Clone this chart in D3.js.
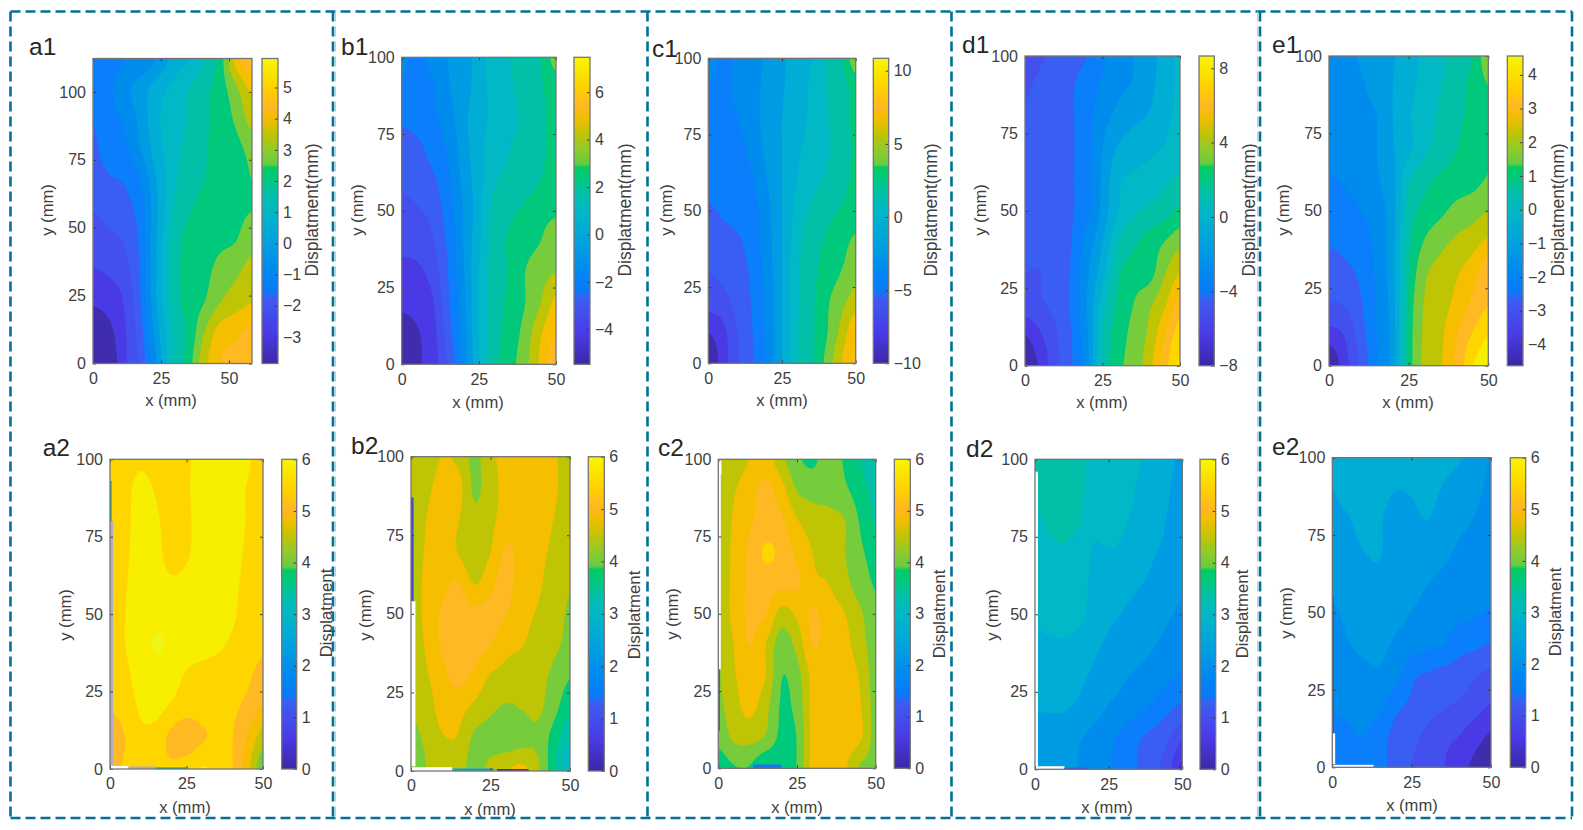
<!DOCTYPE html>
<html>
<head>
<meta charset="utf-8">
<style>
  html, body { margin: 0; padding: 0; background: #fff; }
  svg { display: block; }
  text { font-family: "Liberation Sans", Arial, sans-serif; fill: #404040; }
</style>
<script src="https://cdn.jsdelivr.net/npm/d3@7/dist/d3.min.js"></script>
</head>
<body>
<svg id="fig" width="1583" height="830"></svg>
<script>
// Displacement readings in mm. Each table runs from the top of the specimen
// (largest y) down to y = 0 and from x = 0 to the right-hand edge.
const a1Values = [
  [-1.2,-1.2,-.98,-.86,-.4,.35,.75,1.33,2.19,3.91,4.78],
  [-1.44,-1.09,-.57,-.11,.46,.87,1.33,1.73,2.19,2.94,3.8],
  [-1.55,-1.2,-.86,-.23,.64,1.04,1.38,1.79,2.13,2.59,3.28],
  [-1.66,-1.32,-1.15,-.4,.46,1.1,1.5,1.84,2.13,2.3,2.65],
  [-1.84,-1.61,-1.49,-.98,.18,1.15,1.67,1.9,2.13,2.3,2.48],
  [-2.13,-1.9,-1.78,-1.26,.06,1.33,1.84,2.07,2.19,2.36,2.48],
  [-2.47,-2.3,-2.07,-1.38,.18,1.5,2.07,2.19,2.36,2.48,2.82],
  [-2.76,-2.64,-2.36,-1.49,.18,1.56,2.13,2.3,2.71,2.94,3.34],
  [-3.22,-3.05,-2.64,-1.55,.18,1.5,2.13,2.48,3.05,3.4,3.63],
  [-3.68,-3.45,-2.76,-1.78,-.11,1.33,2.02,3.05,3.91,4.09,4.43],
  [-3.85,-3.68,-2.82,-1.95,-.4,1.33,2.19,3.45,4.2,4.37,4.66]
];
const b1Values = [
  [-1.28,-1.97,-1.36,-.9,-.68,.31,1,1.38,1.76,2.14,3.28],
  [-2.05,-2.12,-1.74,-.98,-.52,.24,.92,1.3,1.61,2.06,2.44],
  [-2.27,-2.12,-1.82,-1.28,-.37,.31,.85,1.23,1.53,1.99,2.44],
  [-2.88,-2.65,-2.12,-1.59,-.52,.39,1.07,1.38,1.61,1.99,2.44],
  [-3.03,-2.88,-2.58,-1.82,-.68,.31,1.3,1.53,1.76,2.14,2.52],
  [-3.42,-3.26,-2.96,-2.05,-.9,.31,1.68,1.99,2.29,2.6,2.75],
  [-3.72,-3.64,-3.26,-2.27,-.9,.47,1.76,2.22,2.6,2.9,3.51],
  [-4.18,-4.1,-3.64,-2.43,-.98,.62,1.84,2.22,2.9,3.36,3.66],
  [-4.48,-4.4,-4.02,-2.58,-1.13,.62,1.84,2.29,2.9,3.66,4.65],
  [-5.24,-4.79,-4.25,-2.81,-1.21,.62,1.84,2.44,3.21,4.35,5.18],
  [-5.47,-4.86,-4.33,-3.11,-1.36,.54,1.91,2.6,3.43,4.58,5.79]
];
const c1Values = [
  [-2.64,-4.36,-3.38,-3.13,-2.4,-1.66,-.8,-.19,1.03,2.01,4.34],
  [-4.24,-4.36,-3.5,-3.01,-2.28,-1.54,-.8,.05,1.03,1.77,2.63],
  [-4.61,-4.36,-3.87,-3.13,-2.15,-1.42,-.68,.05,.91,1.65,2.63],
  [-4.73,-4.61,-4.24,-3.5,-2.28,-1.42,-.44,.3,.91,1.52,2.51],
  [-4.85,-4.73,-4.61,-3.99,-2.64,-1.42,-.19,.67,1.16,1.77,2.63],
  [-5.22,-4.97,-4.73,-4.36,-3.01,-1.42,.18,1.28,1.89,2.38,2.87],
  [-5.71,-5.46,-5.22,-4.61,-3.13,-1.42,.54,1.77,2.38,3,3.73],
  [-6.32,-5.95,-5.46,-4.85,-3.26,-1.42,.79,1.89,2.75,3.49,4.34],
  [-7.06,-6.81,-5.83,-4.97,-3.38,-1.42,.79,2.01,3.24,4.34,5.33],
  [-8.77,-7.92,-6.32,-5.1,-3.62,-1.42,.91,2.01,3.36,5.08,7.04],
  [-10,-8.16,-6.44,-5.22,-3.62,-1.42,.91,2.01,3.85,5.94,7.41]
];
const d1Values = [
  [-5.45,-5.16,-4.77,-4.37,-4.08,-3.3,-2.51,-2.12,-1.53,-.75,.04],
  [-5.16,-4.86,-4.57,-4.18,-3.59,-2.9,-2.32,-2.02,-1.43,-.65,.04],
  [-4.96,-4.77,-4.57,-4.18,-3.49,-2.51,-1.83,-1.34,-1.04,-.45,.13],
  [-4.86,-4.77,-4.57,-4.18,-3.49,-2.12,-1.04,-.65,-.36,-.06,.43],
  [-4.86,-4.77,-4.57,-4.18,-3.39,-1.92,-.36,.04,.23,.62,1.02],
  [-4.86,-4.77,-4.57,-4.18,-3.39,-1.83,-.16,.62,1.02,1.41,2],
  [-4.96,-4.86,-4.57,-4.08,-2.71,-1.14,.82,1.6,2.19,2.78,3.47],
  [-5.06,-5.06,-4.67,-3.98,-2.32,-.55,1.6,2.29,2.39,3.66,4.74],
  [-5.45,-5.16,-4.77,-3.88,-2.12,.33,2,2.78,3.56,4.54,6.11],
  [-7.02,-6.14,-5.16,-4.08,-2.32,.82,2.29,3.07,3.96,5.62,7.29],
  [-8,-6.82,-5.35,-4.18,-2.51,.82,2.49,3.17,4.35,6.31,7.88]
];
const e1Values = [
  [-1.66,-1.55,-1.34,-1.17,-.9,-.53,-.2,.12,.45,.77,1.74],
  [-1.71,-1.61,-1.44,-1.23,-.85,-.47,-.09,.23,.55,.93,1.31],
  [-1.77,-1.66,-1.5,-1.39,-.85,-.36,.01,.34,.66,.93,1.31],
  [-1.82,-1.71,-1.61,-1.39,-.9,-.42,.12,.45,.77,1.09,1.31],
  [-1.98,-1.88,-1.66,-1.44,-1.01,.18,.61,.88,1.04,1.15,1.36],
  [-2.2,-2.15,-1.93,-1.61,-1.07,.45,.93,1.2,1.47,1.63,1.85],
  [-2.42,-2.36,-2.2,-1.77,-1.01,.61,1.36,1.69,1.96,2.17,2.5],
  [-2.69,-2.58,-2.36,-1.82,-1.01,.77,1.74,2.07,2.34,2.71,3.36],
  [-3.06,-2.96,-2.52,-1.88,-1.07,.93,1.9,2.17,2.55,3.04,3.47],
  [-3.77,-3.5,-2.69,-1.93,-1.12,.99,1.96,2.28,2.93,3.52,4.01],
  [-4.63,-3.77,-2.9,-1.98,-1.12,.99,2.01,2.34,3.04,3.96,4.44]
];
const a2Values = [
  [5.4,5.5,5.6,5.5,5.45,5.6,5.75,5.8,5.8,5.7,5.45],
  [5.4,5.55,5.75,5.62,5.45,5.6,5.8,5.85,5.8,5.62,5.45],
  [5.4,5.55,5.8,5.7,5.5,5.58,5.8,5.85,5.8,5.62,5.45],
  [5.4,5.58,5.8,5.75,5.52,5.6,5.8,5.85,5.78,5.58,5.4],
  [5.4,5.62,5.8,5.8,5.7,5.75,5.85,5.85,5.72,5.55,5.4],
  [5.4,5.65,5.85,5.9,5.9,5.9,5.85,5.82,5.7,5.5,5.4],
  [5.4,5.65,5.85,6.03,5.95,5.85,5.8,5.72,5.58,5.45,5.35],
  [5.35,5.55,5.8,5.85,5.8,5.6,5.5,5.45,5.4,5.35,5.15],
  [5.3,5.45,5.7,5.75,5.6,5.45,5.45,5.4,5.35,5.2,4.9],
  [5.1,5.3,5.55,5.5,5.2,5.05,5.25,5.35,5.3,4.9,4.4],
  [5.1,5.35,5.4,5.4,5.35,5.5,5.68,5.55,5.3,4.7,3.95]
];
const b2Values = [
  [4.3,4.4,4.6,4.5,4.15,4.5,4.7,4.75,4.75,4.65,4.35],
  [4.3,4.5,4.75,4.7,4.18,4.45,4.7,4.8,4.8,4.65,4.4],
  [4.3,4.6,4.8,4.6,4.3,4.5,4.75,4.8,4.75,4.58,4.35],
  [4.3,4.65,4.85,4.55,4.3,4.58,5,4.8,4.7,4.5,4.3],
  [4.35,4.7,4.85,4.95,4.55,4.85,5.05,4.75,4.65,4.4,4.25],
  [4.4,4.7,5,5.15,5.05,5.05,4.95,4.7,4.55,4.35,4.2],
  [4.35,4.65,5,5.2,5.1,4.95,4.7,4.6,4.45,4.3,4.15],
  [4.3,4.55,4.85,5.05,4.85,4.55,4.45,4.4,4.35,4.15,3.9],
  [4.25,4.4,4.75,4.7,4.5,4.3,4.2,4.25,4.3,4,3.6],
  [4.15,4.3,4.55,4.55,4.15,4.1,4.05,4.1,4.15,3.7,3.2],
  [4,4.24,4.4,4.35,4.1,4.35,4.55,4.7,4.3,3.6,2.9]
];
const c2Values = [
  [4.2,4.4,4.6,4.75,4.35,3.95,3.82,4.05,3.85,3.55,3.2],
  [4.2,4.55,4.8,5.05,4.75,4.22,4.1,4.1,3.95,3.7,3.4],
  [4.2,4.65,4.9,5.05,5,4.62,4.42,4.35,4.25,3.85,3.5],
  [4.2,4.7,5,5.35,5.2,4.85,4.58,4.4,4.25,3.95,3.75],
  [4.2,4.72,5,5.1,5.05,5,4.68,4.58,4.35,4.05,3.85],
  [4.22,4.72,5,4.97,4.45,4.65,5,4.75,4.6,4.3,3.95],
  [4.2,4.6,4.95,4.6,4.05,4.35,4.95,4.8,4.7,4.4,4.05],
  [4.2,4.55,4.8,4.6,3.9,4.1,4.7,4.8,4.75,4.55,4.05],
  [4.15,4.45,4.7,4.35,3.85,4,4.7,4.8,4.75,4.62,4.1],
  [4,4.3,4.35,4.2,3.8,3.9,4.7,4.8,4.75,4.65,4.1],
  [3.65,3.85,3.85,3.5,3.6,3.9,4.7,4.75,4.65,4.2,4.1]
];
const d2Values = [
  [3.25,3.4,3.4,3.25,3.1,3,2.95,2.85,2.75,2.55,2.4],
  [3.2,3.35,3.35,3.23,3.05,3,2.9,2.8,2.65,2.5,2.35],
  [3.1,3.25,3.3,3.2,2.9,2.95,2.85,2.75,2.6,2.45,2.3],
  [3.05,3.1,3.13,3,2.8,2.81,2.77,2.65,2.5,2.4,2.25],
  [3,3.05,3.05,2.95,2.75,2.7,2.6,2.5,2.4,2.3,2.15],
  [2.87,2.95,3,2.9,2.7,2.55,2.45,2.35,2.25,2.15,2.07],
  [2.75,2.77,2.77,2.7,2.55,2.4,2.3,2.2,2.13,2.05,1.95],
  [2.65,2.65,2.65,2.55,2.4,2.25,2.15,2.07,2,1.85,1.7],
  [2.5,2.5,2.5,2.4,2.25,2.1,2,1.85,1.7,1.5,1.35],
  [2.3,2.33,2.3,2.15,2,1.85,1.65,1.45,1.3,1.1,.75],
  [2.2,2.2,2.17,2.1,1.9,1.8,1.6,1.4,1.2,.85,.25]
];
const e2Values = [
  [2.5,2.65,2.75,2.7,2.65,2.6,2.6,2.55,2.49,2.3,2.1],
  [2.47,2.6,2.65,2.6,2.48,2.5,2.55,2.45,2.33,2.2,2.05],
  [2.35,2.45,2.57,2.5,2.33,2.4,2.47,2.33,2.2,2.1,2],
  [2.3,2.37,2.47,2.49,2.3,2.3,2.25,2.2,2.07,2,1.93],
  [2.2,2.3,2.38,2.4,2.25,2.2,2.13,2.05,1.97,1.9,1.82],
  [2.07,2.2,2.3,2.3,2.2,2.11,2.03,1.95,1.87,1.8,1.73],
  [1.95,2.1,2.2,2.2,2.07,1.95,1.85,1.77,1.55,1.5,1.4],
  [1.85,1.95,2.03,2.07,1.9,1.5,1.38,1.3,1.25,1.1,.98],
  [1.8,1.85,1.9,1.85,1.5,1.35,1.2,1.1,1,.85,.68],
  [1.65,1.7,1.77,1.55,1.3,1.15,.98,.8,.7,.5,.3],
  [1.65,1.65,1.65,1.5,1.3,1.05,.9,.72,.5,.25,.05]
];

// Colour-bar ranges and tick labels.
const a1Range = [-3.85, 5.93], a1Ticks = [-3,-2,-1,0,1,2,3,4,5];
const b1Range = [-5.47, 7.47], b1Ticks = [-4,-2,0,2,4,6];
const c1Range = [-10, 10.85],  c1Ticks = [-10,-5,0,5,10];
const d1Range = [-8, 8.66],    d1Ticks = [-8,-4,0,4,8];
const e1Range = [-4.63, 4.56], e1Ticks = [-4,-3,-2,-1,0,1,2,3,4];
const lowerRange = [0, 6],     lowerTicks = [0,1,2,3,4,5,6];
const xTicks = [0,25,50], yTicks = [0,25,50,75,100];

// Strips along the left and bottom edges where the measurement dropped out:
// [x0, x1, y0, y1] in mm.
const a2Gaps = [[0,1,1,80,"#b2abc9"],[0,.5,80,93,"#00a37f"],[0,6,0,1,"#ffffff"],[6,15,0,.8,"#b2abc9"],[15,25,0,.5,"#00a890"]];
const b2Gaps = [[0,.8,54,87,"#3a4ccc"],[0,1.4,1.5,54,"#ffffff"],[0,13,0,1.2,"#ffffff"],[13,26,0,.8,"#00a6d8"],[27,37,0,.6,"#4a209e"]];
const c2Gaps = [[0,1,95,100,"#ffffff"],[0,.8,32,95,"#ffffff"],[0,.5,12,32,"#4450d8"],[11,20,0,1.2,"#1f70f2"]];
const d2Gaps = [[0,1,1,96,"#ffffff"],[0,10,0,1,"#ffffff"],[10,18,0,.5,"#3650e0"]];
const e2Gaps = [[0,.9,1,11,"#ffffff"],[0,13,0,.8,"#ffffff"],[0,.4,11,55,"#3a3ab8"]];

const bandColours = ["#3f2dae","#4a3ae6","#4450ee","#3a5ef2","#0a7efb","#008ced","#009ce3","#00aed5",
  "#00b8c6","#00c0a8","#00c97c","#76cc3b","#bfc505","#f5bf00","#ffb922","#ffd500","#f8ee00","#eef518"];
const barStops = [[0,"#3a28a6"],[.1,"#4a3ae6"],[.2,"#3f58f0"],[.225,"#2f66f4"],[.235,"#0a78fa"],[.3,"#0088f2"],
  [.4,"#00a2de"],[.5,"#00b8c6"],[.56,"#00c0a8"],[.6,"#00c880"],[.642,"#00cc64"],[.652,"#66cc40"],[.7,"#90cb2c"],
  [.75,"#c0c404"],[.8,"#f0be00"],[.84,"#ffb822"],[.9,"#ffd000"],[1,"#f8f600"]];

const bandCount = 17;

const panels = [
  {id:"a1", z:a1Values, xMax:58.5, yMax:112.3, range:a1Range, ticks:a1Ticks, unit:"Displatment(mm)",
   box:[93,252,58.5,363.5], bar:[262,278], title:[29,55], xl:[171,400], yl:[47,210], cl:[312,210]},
  {id:"a2", z:a2Values, xMax:50, yMax:100, range:lowerRange, ticks:lowerTicks, unit:"Displatment", gaps:a2Gaps,
   box:[110,263,459.3,769], bar:[281.7,296.7], title:[42.7,456], xl:[185,807], yl:[65,615], cl:[326,613]},
  {id:"b1", z:b1Values, xMax:50, yMax:100, range:b1Range, ticks:b1Ticks, unit:"Displatment(mm)",
   box:[401.7,556,57.3,364.3], bar:[574,590], title:[341,55], xl:[478,402], yl:[357,210], cl:[625,210]},
  {id:"b2", z:b2Values, xMax:50, yMax:100, range:lowerRange, ticks:lowerTicks, unit:"Displatment", gaps:b2Gaps,
   box:[411,570,456.7,771], bar:[588.3,604.3], title:[351,454], xl:[490,809], yl:[365,615], cl:[634,615]},
  {id:"c1", z:c1Values, xMax:50, yMax:100, range:c1Range, ticks:c1Ticks, unit:"Displatment(mm)",
   box:[708.3,855.7,58.3,363.3], bar:[873.3,888.7], title:[652,57], xl:[782,400], yl:[666,210], cl:[931,210]},
  {id:"c2", z:c2Values, xMax:50, yMax:100, range:lowerRange, ticks:lowerTicks, unit:"Displatment", gaps:c2Gaps,
   box:[718.3,875.7,459.3,768.3], bar:[894.3,910.3], title:[658,456], xl:[797,807], yl:[672,614], cl:[939,614]},
  {id:"d1", z:d1Values, xMax:50, yMax:100, range:d1Range, ticks:d1Ticks, unit:"Displatment(mm)",
   box:[1025,1180,56,365.7], bar:[1199,1214.3], title:[962,53], xl:[1102,402], yl:[980,210], cl:[1249,210]},
  {id:"d2", z:d2Values, xMax:50, yMax:100, range:lowerRange, ticks:lowerTicks, unit:"Displatment", gaps:d2Gaps,
   box:[1035,1182.3,459.3,769.3], bar:[1200,1215.7], title:[966,457], xl:[1107,807], yl:[992,615], cl:[1242,614]},
  {id:"e1", z:e1Values, xMax:50, yMax:100, range:e1Range, ticks:e1Ticks, unit:"Displatment(mm)",
   box:[1329,1488.3,56,365.7], bar:[1507.3,1523], title:[1272,53], xl:[1408,402], yl:[1283,210], cl:[1558,210]},
  {id:"e2", z:e2Values, xMax:50, yMax:100, range:lowerRange, ticks:lowerTicks, unit:"Displatment", gaps:e2Gaps,
   box:[1332.3,1491,457.7,767.3], bar:[1510.3,1525.7], title:[1272,455], xl:[1412,805], yl:[1286,613], cl:[1555,612]}
];

const svg = d3.select("#fig");
const defs = svg.append("defs");

const gradient = defs.append("linearGradient").attr("id","barFill")
  .attr("x1",0).attr("y1",1).attr("x2",0).attr("y2",0);
gradient.selectAll("stop").data(barStops).join("stop")
  .attr("offset", d => d[0]).attr("stop-color", d => d[1]);

// Smooth a coarse table into a finer one so the filled contours have round edges.
function catmull(p0, p1, p2, p3, t) {
  return 0.5 * (2*p1 + (p2-p0)*t + (2*p0-5*p1+4*p2-p3)*t*t + (3*p1-p0-3*p2+p3)*t*t*t);
}
function resampleLine(line, k) {
  const out = [], n = line.length;
  for (let i = 0; i < n-1; i++) {
    const a = line[Math.max(i-1,0)], b = line[i], c = line[i+1], d = line[Math.min(i+2,n-1)];
    for (let s = 0; s < k; s++) out.push(catmull(a,b,c,d,s/k));
  }
  out.push(line[n-1]);
  return out;
}
function refine(rows, k) {
  const wide = rows.map(r => resampleLine(r,k));
  const cols = d3.transpose(wide).map(c => resampleLine(c,k));
  return d3.transpose(cols);
}

const fineStep = 6;

panels.forEach(p => {
  const [x0,x1,y0,y1] = p.box;
  const g = svg.append("g").attr("class","panel-"+p.id);
  const x = d3.scaleLinear().domain([0,p.xMax]).range([x0,x1]);
  const y = d3.scaleLinear().domain([0,p.yMax]).range([y1,y0]);

  const clipId = "clip-"+p.id;
  defs.append("clipPath").attr("id",clipId).append("rect")
    .attr("x",x0).attr("y",y0).attr("width",x1-x0).attr("height",y1-y0);

  // Filled contour bands, painted from the lowest level upward.
  const fine = refine(p.z, fineStep);
  const nr = fine.length, nc = fine[0].length;
  const flat = fine.flat();
  const contours = d3.contours().size([nc,nr]);
  const step = (p.range[1]-p.range[0]) / bandCount;
  const levels = d3.range(bandColours.length).map(i => p.range[0] + i*step);
  const project = d3.geoTransform({
    point(u,v) {
      this.stream.point(x(p.xMax*(u-.5)/(nc-1)), y(p.yMax*(1-(v-.5)/(nr-1))));
    }
  });
  const path = d3.geoPath(project);
  const field = g.append("g").attr("clip-path",`url(#${clipId})`);
  field.append("rect").attr("x",x0).attr("y",y0).attr("width",x1-x0).attr("height",y1-y0)
    .attr("fill",bandColours[0]);
  levels.slice(1).forEach((lev,i) => {
    field.append("path").attr("d",path(contours.contour(flat,lev))).attr("fill",bandColours[i+1]);
  });
  field.selectAll("rect.gap").data(p.gaps || []).join("rect").attr("class","gap")
    .attr("x",d => x(d[0])).attr("width",d => x(d[1])-x(d[0]))
    .attr("y",d => y(d[3])).attr("height",d => y(d[2])-y(d[3]))
    .attr("fill",d => d[4]);

  // Axes, with inward ticks on all four sides of the box.
  const axisStyle = sel => {
    sel.select(".domain").remove();
    sel.selectAll("line").attr("stroke","#3c3c3c").attr("stroke-width",1);
    sel.selectAll("text").attr("font-size",16).attr("font-family",null).attr("fill","#404040");
  };
  g.append("g").attr("transform",`translate(0,${y1})`)
    .call(d3.axisBottom(x).tickValues(xTicks).tickSizeInner(-3).tickSizeOuter(0).tickPadding(9)).call(axisStyle);
  g.append("g").attr("transform",`translate(${x0},0)`)
    .call(d3.axisLeft(y).tickValues(yTicks).tickSizeInner(-3).tickSizeOuter(0).tickPadding(7)).call(axisStyle);
  g.append("g").attr("transform",`translate(0,${y0})`)
    .call(d3.axisTop(x).tickValues(xTicks).tickSizeInner(-3).tickSizeOuter(0).tickFormat("")).call(axisStyle);
  g.append("g").attr("transform",`translate(${x1},0)`)
    .call(d3.axisRight(y).tickValues(yTicks).tickSizeInner(-3).tickSizeOuter(0).tickFormat("")).call(axisStyle);
  g.append("rect").attr("x",x0).attr("y",y0).attr("width",x1-x0).attr("height",y1-y0)
    .attr("fill","none").attr("stroke","#757575").attr("stroke-width",1.3);

  g.append("text").attr("x",p.xl[0]).attr("y",p.xl[1]).attr("text-anchor","middle")
    .attr("dominant-baseline","central").attr("font-size",16.6).text("x (mm)");
  g.append("text").attr("transform",`translate(${p.yl[0]},${p.yl[1]}) rotate(-90)`).attr("text-anchor","middle")
    .attr("dominant-baseline","central").attr("font-size",16.6).text("y (mm)");
  g.append("text").attr("x",p.title[0]).attr("y",p.title[1]).attr("font-size",24.5)
    .style("fill","#262626").text(p.id);

  // Colour bar.
  const [bx0,bx1] = p.bar;
  const c = d3.scaleLinear().domain(p.range).range([y1,y0]);
  g.append("rect").attr("x",bx0).attr("y",y0).attr("width",bx1-bx0).attr("height",y1-y0)
    .attr("fill","url(#barFill)");
  g.append("g").attr("transform",`translate(${bx1},0)`)
    .call(d3.axisRight(c).tickValues(p.ticks).tickSizeInner(-3).tickSizeOuter(0).tickPadding(5)
      .tickFormat(d3.format("d"))).call(axisStyle);
  g.append("rect").attr("x",bx0).attr("y",y0).attr("width",bx1-bx0).attr("height",y1-y0)
    .attr("fill","none").attr("stroke","#757575").attr("stroke-width",1.3);
  g.append("text").attr("transform",`translate(${p.cl[0]},${p.cl[1]}) rotate(-90)`).attr("text-anchor","middle")
    .attr("dominant-baseline","central").attr("font-size",p.unit.length > 12 ? 17.5 : 16.8).text(p.unit);
});

// Dashed frames around each column of panels.
const frameColour = "#00729a", frameTop = 11.5, frameBottom = 818, frameLeft = 10.5, frameRight = 1572;
const frame = svg.append("g").attr("fill","none");
const dashed = sel => sel.attr("stroke",frameColour).attr("stroke-width",2.6).attr("stroke-dasharray","10 5");
[frameTop,frameBottom].forEach(yy => {
  frame.append("line").attr("x1",frameLeft).attr("x2",frameRight).attr("y1",yy).attr("y2",yy).call(dashed);
});
[frameLeft,333,647.5,951.5,1260,frameRight].forEach(xx => {
  frame.append("line").attr("x1",xx).attr("x2",xx).attr("y1",frameTop).attr("y2",frameBottom).call(dashed);
});
[335.5,1257.5].forEach(xx => {
  frame.append("line").attr("x1",xx).attr("x2",xx).attr("y1",frameTop).attr("y2",frameBottom)
    .attr("stroke","#a5d6e6").attr("stroke-width",1).attr("stroke-dasharray","10 5");
});
</script>
</body>
</html>
